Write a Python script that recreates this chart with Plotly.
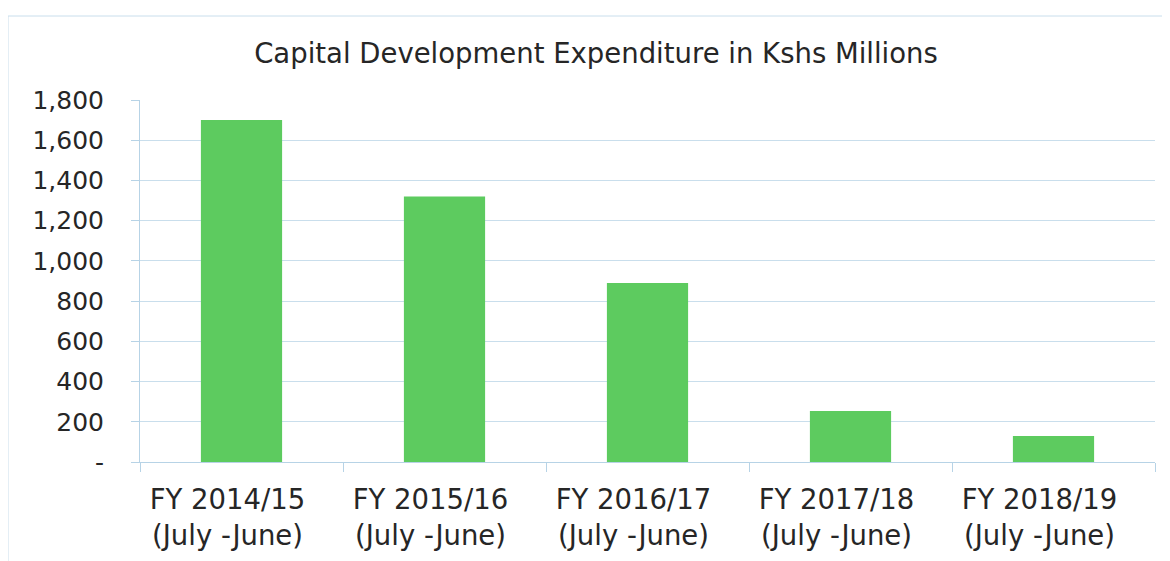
import plotly.graph_objects as go

categories = ["FY 2014/15<br>(July -June)", "FY 2015/16<br>(July -June)", "FY 2016/17<br>(July -June)",
              "FY 2017/18<br>(July -June)", "FY 2018/19<br>(July -June)"]
values = [1700, 1320, 890, 253, 129]
tick_vals = [0, 200, 400, 600, 800, 1000, 1200, 1400, 1600, 1800]
tick_text = ["-", "200", "400", "600", "800", "1,000", "1,200", "1,400", "1,600", "1,800"]

W, H = 1170, 561
OFF = 8  # page body margin offset
L, R, T, B = 140 - OFF, 1155 - OFF, 100 - OFF, 462 - OFF

fig = go.Figure(go.Bar(x=categories, y=values, marker=dict(color="#5DCB5F", line=dict(width=0))))

def px2x(p):
    return (p - OFF - L) / (R - L)

def px2y(p):
    return (B - (p - OFF)) / (B - T)

fig.update_layout(
    width=W, height=H,
    margin=dict(l=L, r=W - R, t=T, b=H - B),
    paper_bgcolor="white", plot_bgcolor="white",
    bargap=0.6,
    showlegend=False,
    font=dict(family="DejaVu Sans", color="#262626"),
    title=dict(text="Capital Development Expenditure in Kshs Millions", x=(596 - OFF) / W, xanchor="center",
               y=1 - (53 - OFF) / H, yanchor="middle", font=dict(size=27.5, color="#262626")),
    xaxis=dict(type="category", showgrid=False, showline=True, linecolor="#B7D3E6", linewidth=1,
               ticks="outside", tickson="boundaries", ticklen=9, tickcolor="#B7D3E6",
               ticklabelstandoff=13, ticklabelshift=-14,
               tickfont=dict(size=27.5, color="#262626")),
    yaxis=dict(range=[0, 1800], tickvals=tick_vals, ticktext=tick_text, showgrid=True,
               gridcolor="#C9DEEC", gridwidth=1, showline=True, linecolor="#B7D3E6",
               ticks="outside", ticklen=8, tickcolor="#B7D3E6", zeroline=False,
               ticklabelstandoff=22,
               tickfont=dict(size=25, color="#262626")),
    shapes=[dict(type="rect", xref="paper", yref="paper",
                 x0=px2x(8), x1=px2x(1166), y0=px2y(575), y1=px2y(16),
                 line=dict(color="#C9DEEC", width=1), fillcolor="rgba(0,0,0,0)")],
)

fig.write_html("out.html")
